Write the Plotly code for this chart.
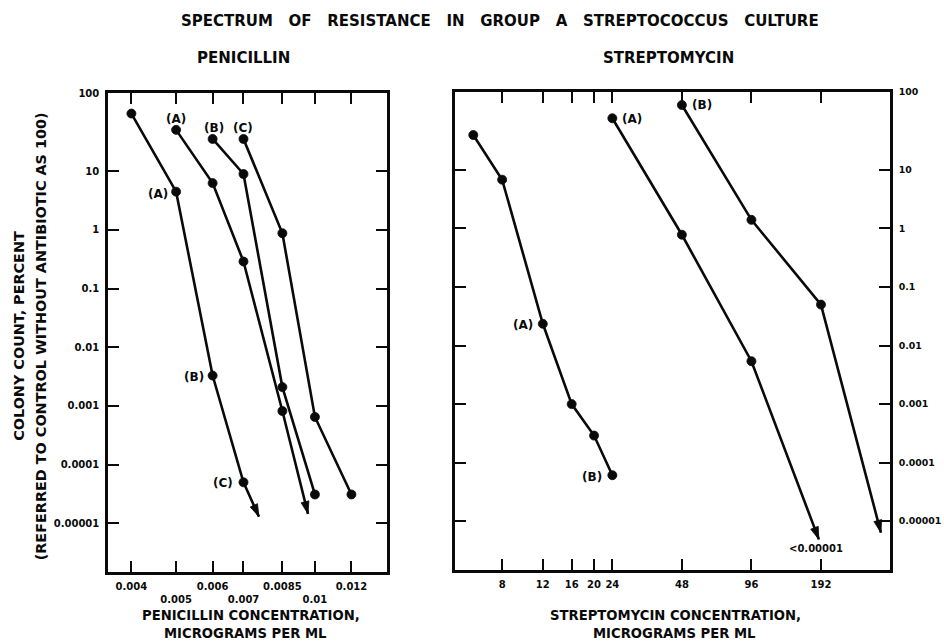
import math
import plotly.graph_objects as go

# ---------------- data ----------------
pen_ticks = [0.004, 0.005, 0.006, 0.007, 0.0085, 0.01, 0.012]
pen_tick_text = ["0.004", "<br>0.005", "0.006", "<br>0.007", "0.0085", "<br>0.01", "0.012"]
strep_ticks = [8, 12, 16, 20, 24, 48, 96, 192]
strep_tick_text = ["8", "12", "16", "20", "24", "48", "96", "192"]
y_ticks = [100, 10, 1, 0.1, 0.01, 0.001, 0.0001, 0.00001]
y_tick_text = ["100", "10", "1", "0.1", "0.01", "0.001", "0.0001", "0.00001"]

# penicillin curves (concentration, colony count %)
pen_1_x = [0.004, 0.005, 0.006, 0.007]
pen_1_y = [55, 4.5, 0.0033, 0.00005]
pen_1_arrow = [0.00756, 0.000013]
pen_2_x = [0.005, 0.006, 0.007, 0.0085]
pen_2_y = [34, 6.3, 0.29, 0.00082]
pen_2_arrow = [0.00966, 0.0000145]
pen_3_x = [0.006, 0.007, 0.0085, 0.01]
pen_3_y = [26, 9, 0.0021, 0.000031]
pen_4_x = [0.007, 0.0085, 0.01, 0.012]
pen_4_y = [26, 0.88, 0.00065, 0.000031]

# streptomycin curves
strep_1_x = [6, 8, 12, 16, 20, 24]
strep_1_y = [28, 6.8, 0.0235, 0.001, 0.00029, 0.000061]
strep_2_x = [24, 48, 96]
strep_2_y = [46, 0.78, 0.0054]
strep_2_arrow = [188, 0.0000049]
strep_3_x = [48, 96, 192]
strep_3_y = [68, 1.4, 0.05]
strep_3_arrow = [349, 0.0000064]

# ---------------- scale: log decades, top decade drawn stretched ----------------
TOP_STRETCH = 1.33


def ypos(v):
    L = math.log10(v)
    return L if L <= 1 else 1 + (L - 1) * TOP_STRETCH


FONT = "DejaVu Sans"
INK = "#0a0a0a"

# pixel frame
W, H = 944, 642
ML, MR, MT, MB = 108.3, 54.0, 92.0, 70.3
PW = W - ML - MR
PH = H - MT - MB


def px_x(px):
    return (px - ML) / PW


def px_y(py):
    return (H - MB - py) / PH


fig = go.Figure()


def add_curve(xs, ys, xa, ya, arrow=None):
    X = list(xs)
    Y = list(ys)
    size = [9] * len(xs)
    if arrow is not None:
        X.append(arrow[0])
        Y.append(arrow[1])
        size.append(0)
    fig.add_trace(go.Scatter(
        x=X, y=[ypos(v) for v in Y], customdata=Y,
        xaxis=xa, yaxis=ya, mode="lines+markers",
        line=dict(color=INK, width=2.6),
        marker=dict(symbol="circle", size=size, color=INK, opacity=1,
                    line=dict(width=0.8, color=INK)),
        hovertemplate="%{x}, %{customdata}<extra></extra>",
        showlegend=False,
    ))
    if arrow is not None:
        fig.add_trace(go.Scatter(
            x=[xs[-1], arrow[0]], y=[ypos(ys[-1]), ypos(arrow[1])],
            xaxis=xa, yaxis=ya, mode="markers",
            marker=dict(symbol="arrow", size=[0, 13], color=INK, opacity=1,
                        angleref="previous", line=dict(width=0.8, color=INK)),
            hoverinfo="skip", showlegend=False,
        ))


add_curve(pen_1_x, pen_1_y, "x", "y", pen_1_arrow)
add_curve(pen_2_x, pen_2_y, "x", "y", pen_2_arrow)
add_curve(pen_3_x, pen_3_y, "x", "y")
add_curve(pen_4_x, pen_4_y, "x", "y")
add_curve(strep_1_x, strep_1_y, "x2", "y2")
add_curve(strep_2_x, strep_2_y, "x2", "y2", strep_2_arrow)
add_curve(strep_3_x, strep_3_y, "x2", "y2", strep_3_arrow)

tickfont = dict(family=FONT, size=10, color=INK, weight="bold")
common = dict(showgrid=False, zeroline=False, showline=True, linecolor=INK,
              linewidth=2.5, ticks="inside", ticklen=11, tickwidth=2.2,
              tickcolor=INK, mirror="ticks",
              automargin=False, tickangle=0)

yr = [-5.83, ypos(100)]

fig.update_layout(
    width=W, height=H, autosize=False,
    margin=dict(l=ML, r=MR, t=MT, b=MB, pad=0, autoexpand=False),
    plot_bgcolor="white", paper_bgcolor="white",
    xaxis=dict(type="log", range=[-2.4487, -1.8448], domain=[0, px_x(386.7)],
               tickmode="array", tickvals=pen_ticks, ticktext=pen_tick_text,
               anchor="y", ticklabelstandoff=3, tickfont=tickfont, **common),
    yaxis=dict(range=yr, domain=[0, px_y(93.3)], tickmode="array",
               tickvals=[ypos(v) for v in y_ticks], ticktext=y_tick_text,
               anchor="x", ticklabelstandoff=4, tickfont=tickfont, **common),
    xaxis2=dict(type="log", range=[0.7004, 2.5822], domain=[px_x(455.5), 1],
                tickmode="array", tickvals=strep_ticks, ticktext=strep_tick_text,
                anchor="y2", ticklabelstandoff=3, tickfont=tickfont, **common),
    yaxis2=dict(range=yr, domain=[px_y(569.5), 1], tickmode="array",
                tickvals=[ypos(v) for v in y_ticks], ticktext=y_tick_text,
                anchor="x2", side="right", ticklabelstandoff=4,
                tickfont=dict(family=FONT, size=9.4, color=INK, weight="bold"),
                **common),
)

ann = []


def text_px(txt, px, py, size, angle=0):
    ann.append(dict(text=txt, x=px_x(px), y=px_y(py), xref="paper", yref="paper",
                    showarrow=False, textangle=angle, xanchor="center",
                    yanchor="middle",
                    font=dict(family=FONT, size=size, color=INK, weight="bold")))


sp = "\u00a0\u00a0 "
text_px(sp.join(["SPECTRUM", "OF", "RESISTANCE", "IN", "GROUP", "A",
                 "STREPTOCOCCUS", "CULTURE"]), 500, 21, 15)
text_px("PENICILLIN", 244, 58.5, 15)
text_px("STREPTOMYCIN", 669, 58.5, 15)
text_px("COLONY COUNT, PERCENT", 19, 336, 14.4, -90)
text_px("(REFERRED TO CONTROL WITHOUT ANTIBIOTIC AS 100)", 41.5, 336, 14.4, -90)
text_px("PENICILLIN CONCENTRATION,", 251, 615, 13.2)
text_px("MICROGRAMS PER ML", 246, 633, 13.2)
text_px("STREPTOMYCIN CONCENTRATION,", 676, 615, 13.2)
text_px("MICROGRAMS PER ML", 675, 633, 13.2)


def label(txt, xv, yv, xa, ya, xanchor="center", xshift=0, yshift=0, size=12):
    ann.append(dict(text=txt, x=math.log10(xv), y=ypos(yv), xref=xa, yref=ya,
                    showarrow=False, xanchor=xanchor, yanchor="middle",
                    xshift=xshift, yshift=yshift,
                    font=dict(family=FONT, size=size, color=INK, weight="bold")))


label("(A)", pen_1_x[1], pen_1_y[1], "x", "y", "right", -6, -2)
label("(B)", pen_1_x[2], pen_1_y[2], "x", "y", "right", -7, -1)
label("(C)", pen_1_x[3], pen_1_y[3], "x", "y", "right", -8, -1)
label("(A)", pen_2_x[0], pen_2_y[0], "x", "y", "center", 0, 11)
label("(B)", pen_3_x[0], pen_3_y[0], "x", "y", "center", 1, 11)
label("(C)", pen_4_x[0], pen_4_y[0], "x", "y", "center", 0, 11)
label("(A)", strep_1_x[2], strep_1_y[2], "x2", "y2", "right", -8, -1)
label("(B)", strep_1_x[5], strep_1_y[5], "x2", "y2", "right", -8, -2)
label("(A)", strep_2_x[0], strep_2_y[0], "x2", "y2", "left", 8, -1)
label("(B)", strep_3_x[0], strep_3_y[0], "x2", "y2", "left", 8, 0)
label("<0.00001", strep_2_arrow[0], strep_2_arrow[1], "x2", "y2", "center", -3, -9, 10)

fig.update_layout(annotations=ann)

fig.write_html("out.html",
               config={"displayModeBar": False},
               post_script="document.body.style.margin='0px';"
                           "document.body.style.overflow='hidden';")
